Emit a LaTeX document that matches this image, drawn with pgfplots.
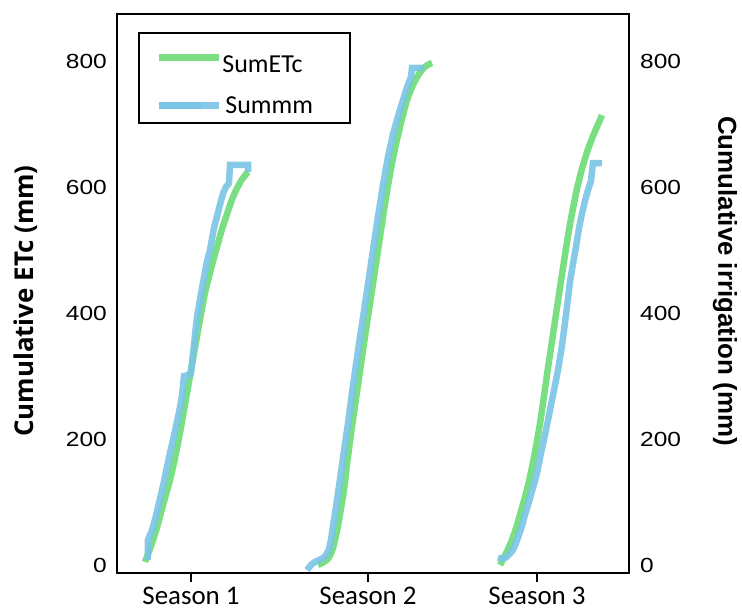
\documentclass[border=0pt]{standalone}
\usepackage{pgfplots}
\pgfplotsset{compat=1.18}
\usepackage{fontspec}
\setmainfont{Carlito}
\newfontfamily\tickfont{Liberation Sans}[FakeStretch=1.2]
\newfontfamily\boldlab{Open Sans}
\newfontfamily\arialb{Liberation Sans}
\definecolor{etgreen}{RGB}{122,222,130}
\definecolor{irblue}{RGB}{122,196,230}
\begin{document}
\begin{tikzpicture}
\begin{axis}[
  at={(0,0)}, anchor=south west,
  scale only axis, width=512bp, height=559bp,
  xmin=0, xmax=512, ymin=-12.7, ymax=874.6,
  axis line style={line width=2.2bp},
  xtick={74,251,420},
  xticklabels={Season 1, Season 2, Season 3},
  xtick pos=bottom, ytick pos=left,
  tick align=outside,
  major tick length=9bp,
  xtick style={line width=2bp, black},
  ytick={0,200,400,600,800},
  ytick style={draw=none},
  /pgf/number format/assume math mode=true,
  yticklabel style={font=\tickfont\fontsize{20.5}{24}\selectfont, inner sep=0pt, xshift=-10bp+9bp},
  xticklabel style={font=\fontsize{27}{32}\selectfont, inner sep=0pt, yshift=-5bp},
  legend style={at={(rel axis cs:0.041,0.968)}, anchor=north west, draw=black, line width=2bp,
    inner xsep=17bp, inner ysep=6bp, font=\fontsize{26}{30}\selectfont, row sep=18bp,
    nodes={inner xsep=0pt}, cells={anchor=west}},
  legend image code/.code={\draw[#1, line width=6.5bp, opacity=1] (0bp,0bp) -- (42bp,0bp); \path (0bp,0bp) -- (60bp,0bp);},
]
% Season 1
\addplot[etgreen, line width=6.5bp, smooth] coordinates {
(28,5)(34,30)(40,60)(46,95)(53,135)(58,170)(63,210)(68,255)(73,300)(78,345)(83,390)(88,432)(94,470)(100,505)(105,533)(110,557)(115,580)(120,598)(125,612)(131,624)};
\addlegendentry{\makebox[111bp][l]{\rule{0pt}{32bp}SumETc}}
\addplot[irblue, line width=6.5bp, opacity=0.9] coordinates {
(31,8)(31,40)(35,55)(38,72)(41,92)(44,112)(47,133)(50,156)(53,178)(56,198)(59,220)(62,242)(65,268)(67,300)(73,302)(74,305)(76,335)(78,365)(80,394)(82,412)(84,430)(86,448)(88,465)(90,482)(93,500)(95,518)(97,535)(100,553)(102,566)(104,578)(106,590)(109,600)(112,606)(113,635)(131,635)(131,624)};
\addlegendentry{\makebox[111bp][l]{\hspace{3bp}Summm}}
% Season 2
\addplot[etgreen, line width=6.5bp, smooth, forget plot] coordinates {
(201,0)(206,4)(211,10)(215,22)(218,40)(221,62)(224,90)(227,120)(230,160)(235,220)(240,275)(245,330)(250,384)(255,436)(260,489)(265,542)(270,593)(275,638)(280,675)(285,708)(290,738)(296,762)(303,782)(309,792)(315,797)};
\addplot[irblue, line width=6.5bp, opacity=0.9, forget plot] coordinates {
(190,-8)(194,0)(198,5)(202,8)(206,11)(209,16)(212,25)(214,40)(216,62)(219,92)(222,125)(226,170)(231,225)(236,285)(241,340)(246,393)(251,446)(256,500)(261,553)(266,603)(271,648)(276,684)(281,712)(286,738)(290,758)(294,775)(295,789)(306,789)};
% Season 3
\addplot[etgreen, line width=6.5bp, smooth, forget plot] coordinates {
(383,0)(387,12)(391,25)(395,40)(399,58)(403,80)(407,102)(411,126)(415,155)(419,188)(423,225)(427,268)(431,313)(435,355)(439,398)(443,440)(447,482)(451,522)(455,558)(459,590)(463,617)(467,640)(471,660)(475,677)(479,692)(485,714)};
\addplot[irblue, line width=6.5bp, opacity=0.9, forget plot] coordinates {
(381,12)(385,10)(389,12)(393,18)(396,24)(399,35)(402,48)(405,62)(408,80)(411,95)(414,112)(417,128)(420,146)(423,170)(426,192)(429,214)(432,238)(435,262)(438,285)(441,310)(444,338)(447,372)(450,410)(453,450)(456,478)(459,505)(462,535)(465,558)(468,578)(471,595)(474,610)(476,638)(485,638)};
\end{axis}
\begin{axis}[
  at={(0,0)}, anchor=south west,
  scale only axis, width=512bp, height=559bp,
  xmin=0, xmax=512, ymin=-12.7, ymax=874.6,
  axis y line*=right, axis x line=none,
  axis line style={line width=2.2bp},
  ytick={0,200,400,600,800},
  ytick style={draw=none},
  /pgf/number format/assume math mode=true,
  yticklabel style={font=\tickfont\fontsize{20.5}{24}\selectfont, inner sep=0pt, xshift=11bp},
]
\addplot[draw=none] coordinates {(0,0)};
\end{axis}
\node[rotate=90, font=\boldlab\bfseries\fontsize{26}{30}\selectfont] at (-91bp,272bp) {Cumulative ETc (mm)};
\node[rotate=-90, font=\arialb\bfseries\fontsize{26}{30}\selectfont] at (608bp,292bp) {Cumulative irrigation (mm)};
\pgfresetboundingbox
\path[use as bounding box] (-117bp,-37bp) rectangle (625bp,573bp);
\end{tikzpicture}
\end{document}
